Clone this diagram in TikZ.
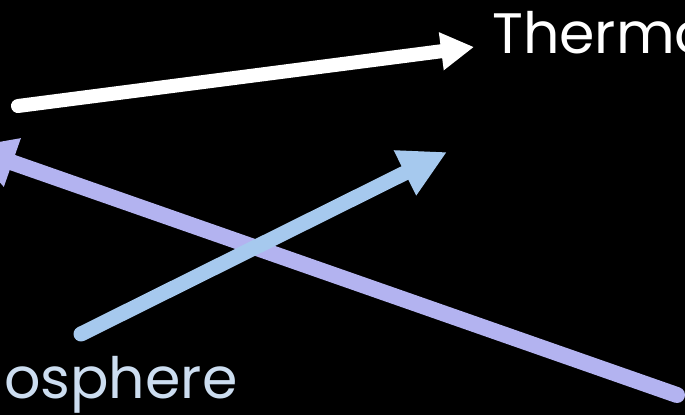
\documentclass[tikz,border=0pt]{standalone}
\usepackage{fontspec}
\setmainfont{Poppins}
\usetikzlibrary{arrows.meta}
\definecolor{wht}{HTML}{FFFFFF}
\definecolor{lblue}{HTML}{A6C9EE}
\definecolor{lpurple}{HTML}{B3B3F0}
\definecolor{ltext}{HTML}{CCDDF0}
\tikzset{
  arr/.style={line width=#1, line cap=round},
  lbl/.style={font=\fontsize{57}{57}\selectfont, inner sep=0pt, anchor=base west},
}
\begin{document}
\begin{tikzpicture}[x=1pt,y=-1pt]
\fill[black] (0,0) rectangle (685,415);
\useasboundingbox (0,0) rectangle (685,415);
\clip (0,0) rectangle (685,415);
\coordinate (ws) at (18,106);
\coordinate (we) at (474,47);
\coordinate (bs) at (81,334);
\coordinate (be) at (447,152);
\coordinate (ps) at (677,395);
\coordinate (pe) at (-32,147);
\node[lbl, text=wht] (thermo) at (492,53) {Thermosphere};
\node[lbl, text=ltext] (osph) at (4,398) {osphere};
\draw[arr=14pt, wht, -{Triangle[length=33pt,width=36pt]}] (ws) -- (we);
\draw[arr=16pt, lpurple, -{Triangle[length=47pt,width=48pt]}] (ps) -- (pe);
\draw[arr=15pt, lblue, -{Triangle[length=47pt,width=47pt]}] (bs) -- (be);
\end{tikzpicture}
\end{document}
